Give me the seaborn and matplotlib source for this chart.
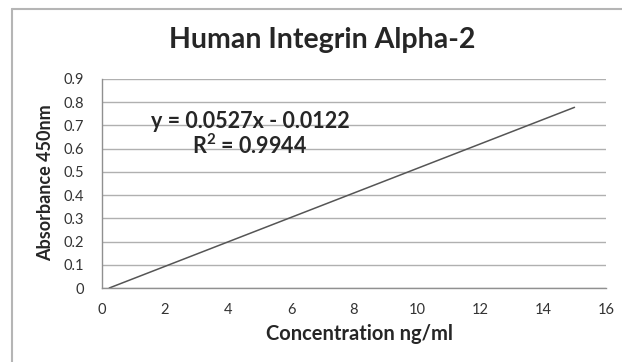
import matplotlib
matplotlib.use("Agg")
import matplotlib.pyplot as plt
import seaborn as sns
import pandas as pd
from matplotlib.lines import Line2D

concentration = [0.23, 15.0]
absorbance = [0.0, 0.778]
x_ticks = [0, 2, 4, 6, 8, 10, 12, 14, 16]
y_ticks = [0, 0.1, 0.2, 0.3, 0.4, 0.5, 0.6, 0.7, 0.8, 0.9]
y_tick_labels = ["0", "0.1", "0.2", "0.3", "0.4", "0.5", "0.6", "0.7", "0.8", "0.9"]
title = "Human Integrin Alpha-2"
equation = "y = 0.0527x - 0.0122\nR$^2$ = 0.9944"

sns.set_style("white")
plt.rcParams["font.family"] = ["Lato", "DejaVu Sans"]
plt.rcParams["mathtext.default"] = "regular"

df = pd.DataFrame({"x": concentration, "y": absorbance})

fig = plt.figure(figsize=(6.22, 3.62), dpi=100)
ax = fig.add_axes([102/622, 1-288/362, (606-102)/622, (288-79)/362])

sns.lineplot(data=df, x="x", y="y", ax=ax, color="#555555", linewidth=1.1)

ax.set_xlim(0, 16)
ax.set_ylim(0, 0.9)
ax.set_xticks(x_ticks)
ax.set_xticklabels([str(t) for t in x_ticks])
ax.set_yticks(y_ticks)
ax.set_yticklabels(y_tick_labels)
ax.grid(axis="y", color="#b0b0b0", linewidth=1.0)
ax.grid(axis="x", visible=False)
for s in ["top", "right"]:
    ax.spines[s].set_visible(False)
for s in ["left", "bottom"]:
    ax.spines[s].set_color("#909090")
    ax.spines[s].set_linewidth(1.0)
ax.tick_params(axis="both", which="both", direction="out", length=4, width=1,
               color="#909090", labelsize=10.5, labelcolor="#333333")
ax.tick_params(axis="x", pad=7)
ax.tick_params(axis="y", pad=9)

ax.set_xlabel("")
ax.set_ylabel("")
fig.text(359/622, 1-334/362, "Concentration ng/ml", ha="center", va="center",
         fontsize=14.5, fontweight="bold")
fig.text(46/622, 1-183/362, "Absorbance 450nm", ha="center", va="center",
         rotation=90, fontsize=13, fontweight="bold")

fig.text(322/622, 1-40/362, title, ha="center", va="center",
         fontsize=20.5, fontweight="bold")

ax.text(4.7, 0.66, equation, ha="center", va="center", fontsize=15.5,
        fontweight="bold", linespacing=1.1)

# chart area border
fig.add_artist(Line2D([12/622, 12/622], [0, 1-9/362], transform=fig.transFigure,
                      color="#b5b5b5", linewidth=1.5))
fig.add_artist(Line2D([12/622, 1], [1-9/362, 1-9/362], transform=fig.transFigure,
                      color="#b5b5b5", linewidth=1.5))

fig.savefig("out.png", dpi=100)
